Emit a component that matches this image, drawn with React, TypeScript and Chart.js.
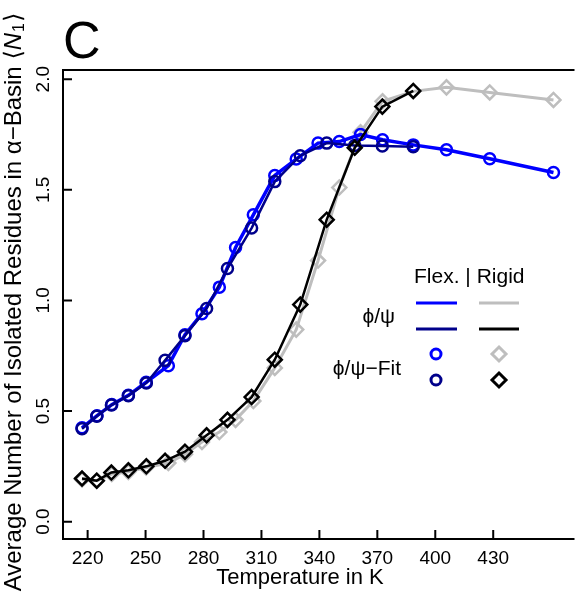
import { useEffect, useRef } from 'react';
import { Chart, registerables } from 'chart.js';
Chart.register(...registerables);

// Temperatures (K), read against the axis ticks
const tempsObs = [217.1, 224.9, 232.5, 241.1, 250.3, 261.8, 270.4, 279.2, 288.2, 296.6, 305.8, 316.9, 328.0, 339.3, 350.3, 361.3, 372.7, 388.6, 405.8, 428.2, 461.2];
const tempsFit = [217.1, 224.7, 232.3, 241.1, 250.4, 260.1, 270.4, 281.6, 292.4, 304.9, 316.9, 330.1, 343.8, 358.3, 372.6, 388.6];

// Series values
const flexObs = [0.424, 0.479, 0.529, 0.571, 0.63, 0.705, 0.845, 0.94, 1.06, 1.239, 1.387, 1.565, 1.639, 1.711, 1.718, 1.75, 1.726, 1.703, 1.681, 1.64, 1.578];
const rigidObs = [0.19, 0.185, 0.215, 0.225, 0.245, 0.265, 0.305, 0.36, 0.405, 0.46, 0.545, 0.695, 0.868, 1.18, 1.51, 1.76, 1.9, 1.945, 1.963, 1.94, 1.906];
const flexFit = [0.42, 0.476, 0.527, 0.569, 0.627, 0.729, 0.84, 0.963, 1.144, 1.327, 1.537, 1.654, 1.711, 1.7, 1.698, 1.695];
const rigidFit = [0.195, 0.185, 0.222, 0.232, 0.25, 0.275, 0.316, 0.39, 0.46, 0.563, 0.732, 0.981, 1.365, 1.69, 1.876, 1.947];

// Tick labels
const xTicks = [220, 250, 280, 310, 340, 370, 400, 430];
const yTicks = [0, 0.5, 1.0, 1.5, 2.0];
const yTickLabels = ['0.0', '0.5', '1.0', '1.5', '2.0'];

const FONT = '"Liberation Sans", Arial, "DejaVu Sans", sans-serif';
const BLUE = '#0000FF';
const NAVY = '#00008B';
const GREY = '#BEBEBE';
const BLACK = '#000000';

function pts(xs: number[], ys: number[]) {
  return xs.map((x, i) => ({ x, y: ys[i] }));
}

function drawMarker(ctx: CanvasRenderingContext2D, style: string, x: number, y: number, r: number, color: string, lw: number) {
  ctx.save();
  ctx.strokeStyle = color;
  ctx.lineWidth = lw;
  ctx.beginPath();
  if (style === 'circle') {
    ctx.arc(x, y, r, 0, Math.PI * 2);
  } else {
    ctx.moveTo(x, y - r);
    ctx.lineTo(x + r, y);
    ctx.lineTo(x, y + r);
    ctx.lineTo(x - r, y);
    ctx.closePath();
  }
  ctx.stroke();
  ctx.restore();
}

const decorPlugin = {
  id: 'decor',
  afterDraw(chart: any) {
    const ctx: CanvasRenderingContext2D = chart.ctx;
    const { left, top, right, bottom } = chart.chartArea;
    const xs = chart.scales.x;
    const ys = chart.scales.y;
    ctx.save();
    // box (right side lies beyond the canvas edge)
    ctx.strokeStyle = '#000';
    ctx.lineWidth = 2;
    ctx.beginPath();
    ctx.moveTo(right + 2, top);
    ctx.lineTo(left, top);
    ctx.lineTo(left, bottom);
    ctx.lineTo(right + 2, bottom);
    ctx.stroke();
    // ticks (inside)
    ctx.beginPath();
    xTicks.forEach((t) => {
      const px = xs.getPixelForValue(t);
      ctx.moveTo(px, bottom);
      ctx.lineTo(px, bottom - 9);
    });
    yTicks.forEach((t) => {
      const py = ys.getPixelForValue(t);
      ctx.moveTo(left, py);
      ctx.lineTo(left + 9, py);
    });
    ctx.stroke();
    // x tick labels
    ctx.fillStyle = '#000';
    ctx.font = `19px ${FONT}`;
    ctx.textAlign = 'center';
    ctx.textBaseline = 'middle';
    xTicks.forEach((t) => {
      ctx.fillText(String(t), xs.getPixelForValue(t), 559);
    });
    // y tick labels rotated
    yTicks.forEach((t, i) => {
      const py = ys.getPixelForValue(t);
      ctx.save();
      ctx.translate(44, py);
      ctx.rotate(-Math.PI / 2);
      ctx.fillText(yTickLabels[i], 0, 0);
      ctx.restore();
    });
    // x title
    ctx.font = `22px ${FONT}`;
    ctx.fillText('Temperature in K', 300, 578);
    // y title (rotated, composite)
    const cy = 302;
    ctx.save();
    ctx.translate(14, cy);
    ctx.rotate(-Math.PI / 2);
    ctx.textAlign = 'left';
    ctx.textBaseline = 'middle';
    const main = 'Average Number of Isolated Residues in \u03B1\u2212Basin ';
    const fMain = `24px ${FONT}`;
    const fItal = `italic 24px ${FONT}`;
    const fSub = `16px ${FONT}`;
    ctx.font = fMain;
    const wMain = ctx.measureText(main).width;
    const wL = ctx.measureText('\u27E8').width;
    const wR = ctx.measureText('\u27E9').width;
    ctx.font = fItal;
    const wN = ctx.measureText('N').width;
    ctx.font = fSub;
    const wS = ctx.measureText('1').width;
    const total = wMain + wL + wN + wS + wR + 2;
    let cx = -total / 2;
    ctx.font = fMain;
    ctx.fillText(main, cx, 0); cx += wMain;
    ctx.fillText('\u27E8', cx, 0); cx += wL;
    ctx.font = fItal;
    ctx.fillText('N', cx, 0); cx += wN + 1;
    ctx.font = fSub;
    ctx.fillText('1', cx, 6); cx += wS + 1;
    ctx.font = fMain;
    ctx.fillText('\u27E9', cx, 0);
    ctx.restore();
    // panel letter
    ctx.font = `52px ${FONT}`;
    ctx.textAlign = 'left';
    ctx.textBaseline = 'alphabetic';
    ctx.fillText('C', 63, 58);
    // legend
    ctx.font = `21px ${FONT}`;
    ctx.textBaseline = 'middle';
    ctx.fillText('Flex. | Rigid', 414, 277);
    ctx.textAlign = 'right';
    ctx.fillText('\u03D5/\u03C8', 395, 317);
    ctx.fillText('\u03D5/\u03C8\u2212Fit', 401, 369);
    ctx.lineWidth = 3;
    const seg = (x1: number, x2: number, y: number, c: string) => {
      ctx.strokeStyle = c;
      ctx.beginPath();
      ctx.moveTo(x1, y);
      ctx.lineTo(x2, y);
      ctx.stroke();
    };
    seg(416, 457, 303, BLUE);
    seg(479, 519, 303, GREY);
    seg(416, 457, 329, NAVY);
    seg(479, 519, 329, BLACK);
    drawMarker(ctx, 'circle', 436, 354, 5, BLUE, 3);
    drawMarker(ctx, 'circle', 436, 380, 5, NAVY, 3);
    drawMarker(ctx, 'diamond', 499, 354, 7, GREY, 3);
    drawMarker(ctx, 'diamond', 499, 380, 7, BLACK, 3);
    ctx.restore();
  },
};

export default function App() {
  const ref = useRef<HTMLCanvasElement | null>(null);
  useEffect(() => {
    document.body.style.margin = '0';
    const canvas = ref.current;
    if (!canvas) return;
    const chart = new Chart(canvas, {
      type: 'line',
      data: {
        datasets: [
          {
            label: 'Rigid phi/psi',
            data: pts(tempsObs, rigidObs),
            borderColor: GREY,
            borderWidth: 3,
            pointStyle: 'rectRot',
            pointRadius: 7,
            pointBorderWidth: 2.5,
            pointBorderColor: GREY,
            pointBackgroundColor: 'rgba(0,0,0,0)',
            order: 4,
          },
          {
            label: 'Flex phi/psi',
            data: pts(tempsObs, flexObs),
            borderColor: BLUE,
            borderWidth: 3.5,
            pointStyle: 'circle',
            pointRadius: 5.5,
            pointBorderWidth: 2.5,
            pointBorderColor: BLUE,
            pointBackgroundColor: 'rgba(0,0,0,0)',
            order: 3,
          },
          {
            label: 'Flex phi/psi-Fit',
            data: pts(tempsFit, flexFit),
            borderColor: NAVY,
            borderWidth: 2.5,
            pointStyle: 'circle',
            pointRadius: 5.5,
            pointBorderWidth: 2.5,
            pointBorderColor: NAVY,
            pointBackgroundColor: 'rgba(0,0,0,0)',
            order: 2,
          },
          {
            label: 'Rigid phi/psi-Fit',
            data: pts(tempsFit, rigidFit),
            borderColor: BLACK,
            borderWidth: 2.5,
            pointStyle: 'rectRot',
            pointRadius: 7,
            pointBorderWidth: 2.5,
            pointBorderColor: BLACK,
            pointBackgroundColor: 'rgba(0,0,0,0)',
            order: 1,
          },
        ],
      },
      options: {
        responsive: false,
        animation: false,
        devicePixelRatio: 1,
        layout: { padding: { left: 63, top: 70, right: -1, bottom: 54 } },
        plugins: { legend: { display: false }, tooltip: { enabled: false } },
        elements: { line: { tension: 0 } },
        scales: {
          x: { type: 'linear', min: 207.25, max: 471.05, display: false },
          y: { type: 'linear', min: -0.0785, max: 2.0415, display: false },
        },
      },
      plugins: [decorPlugin],
    } as any);
    return () => chart.destroy();
  }, []);
  return (
    <div style={{ position: 'absolute', left: 0, top: 0, width: 582, height: 593, background: '#fff' }}>
      <canvas ref={ref} width={582} height={593} style={{ display: 'block' }} />
    </div>
  );
}
